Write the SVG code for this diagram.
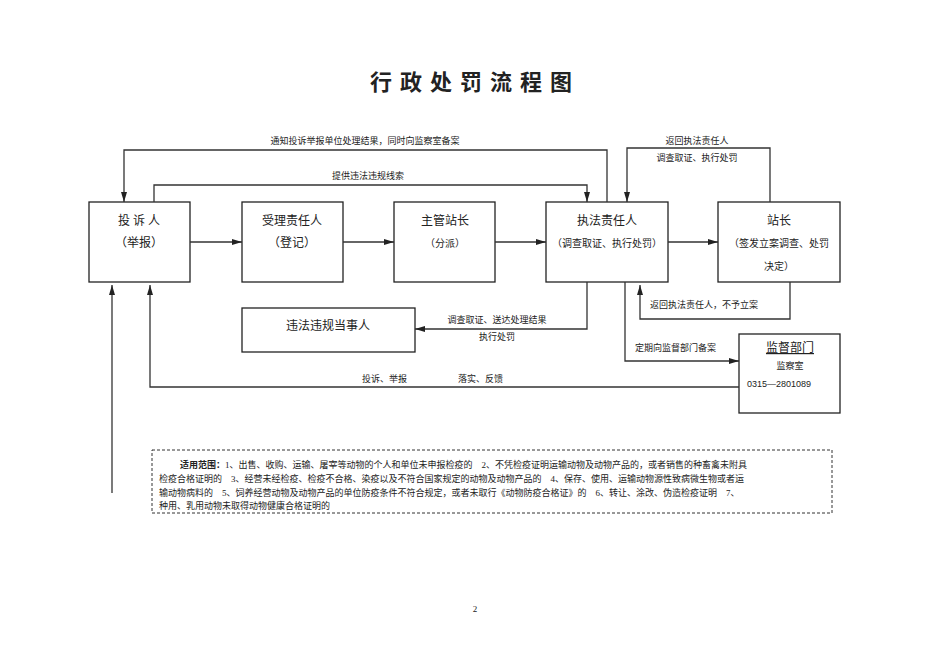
<svg xmlns="http://www.w3.org/2000/svg" width="950" height="672" viewBox="0 0 950 672">
<style>
text{font-family:"Liberation Serif","Noto Sans CJK SC",serif;fill:#222}
.b{fill:#fff;stroke:#222;stroke-width:1.3}
.l{fill:none;stroke:#333;stroke-width:1.3}
.t{font-size:12px;text-anchor:middle}
.s{font-size:9px}
</style>
<defs><marker id="a" viewBox="0 0 10 6" refX="10" refY="3" markerWidth="10" markerHeight="6" markerUnits="userSpaceOnUse" orient="auto"><path d="M0,0L10,3L0,6z" fill="#222"/></marker></defs>
<rect width="950" height="672" fill="#fff"/>
<text x="475" y="90" style="font-size:22px;font-weight:bold;text-anchor:middle;letter-spacing:8px">行政处罚流程图</text>
<g id="n1"><rect class="b" x="89" y="202" width="101" height="80"/><text class="t" x="139" y="225">投 诉 人</text><text class="t" x="139" y="247">（举报）</text></g>
<g id="n2"><rect class="b" x="242" y="202" width="101" height="80"/><text class="t" x="292" y="225">受理责任人</text><text class="t" x="292" y="247">（登记）</text></g>
<g id="n3"><rect class="b" x="394" y="202" width="101" height="80"/><text class="t" x="445" y="225">主管站长</text><text class="t" x="445" y="247" style="font-size:10px">（分派）</text></g>
<g id="n4"><rect class="b" x="546" y="202" width="122" height="80"/><text class="t" x="607" y="225">执法责任人</text><text class="t" x="607" y="247" style="font-size:10px">（调查取证、执行处罚）</text></g>
<g id="n5"><rect class="b" x="718" y="202" width="122" height="80"/><text class="t" x="779" y="225">站长</text><text class="t" x="779" y="247" style="font-size:10px">（签发立案调查、处罚</text><text class="t" x="779" y="270" style="font-size:10px">决定）</text></g>
<g id="n6"><rect class="b" x="242" y="308" width="173" height="44"/><text class="t" x="328" y="330">违法违规当事人</text></g>
<g id="n7"><rect class="b" x="739" y="334" width="101" height="79"/><text x="790" y="352" style="font-size:12px;text-anchor:middle;text-decoration:underline">监督部门</text><text x="790" y="369" class="s" style="text-anchor:middle">监察室</text><text x="747" y="387" style="font-family:'Liberation Sans',sans-serif;font-size:9px">0315—2801089</text></g>
<g id="n8"><rect x="152" y="450" width="680" height="63" fill="none" stroke="#333" stroke-dasharray="3,2"/>
<text class="s" x="180" y="468"><tspan font-weight="bold">适用范围：</tspan>1、出售、收购、运输、屠宰等动物的个人和单位未申报检疫的　2、不凭检疫证明运输动物及动物产品的，或者销售的种畜禽未附具</text>
<text class="s" x="159" y="482">检疫合格证明的　3、经营未经检疫、检疫不合格、染疫以及不符合国家规定的动物及动物产品的　4、保存、使用、运输动物源性致病微生物或者运</text>
<text class="s" x="159" y="496">输动物病料的　5、饲养经营动物及动物产品的单位防疫条件不符合规定，或者未取行《动物防疫合格证》的　6、转让、涂改、伪造检疫证明　7、</text>
<text class="s" x="159" y="509">种用、乳用动物未取得动物健康合格证明的</text></g>
<g id="edges">
<path class="l" d="M190,242H242" marker-end="url(#a)"/>
<path class="l" d="M343,242H394" marker-end="url(#a)"/>
<path class="l" d="M495,242H546" marker-end="url(#a)"/>
<path class="l" d="M668,242H718" marker-end="url(#a)"/>
<path class="l" d="M607,202V150H124V202" marker-end="url(#a)"/>
<path class="l" d="M154,202V185H587V202" marker-end="url(#a)"/>
<path class="l" d="M770,202V148H627V202" marker-end="url(#a)"/>
<path class="l" d="M790,282V319H640V285" marker-end="url(#a)"/>
<path class="l" d="M587,282V329H415" marker-end="url(#a)"/>
<path class="l" d="M625,282V361H739" marker-end="url(#a)"/>
<path class="l" d="M739,387H150V285" marker-end="url(#a)"/>
<path class="l" d="M112,493H112V285" marker-end="url(#a)"/>
<text class="s" x="365" y="144" text-anchor="middle">通知投诉举报单位处理结果，同时向监察室备案</text>
<text class="s" x="368" y="179" text-anchor="middle">提供违法违规线索</text>
<text class="s" x="697" y="144" text-anchor="middle">返回执法责任人</text>
<text class="s" x="697" y="161" text-anchor="middle">调查取证、执行处罚</text>
<text class="s" x="650" y="308">返回执法责任人，不予立案</text>
<text class="s" x="497" y="323" text-anchor="middle">调查取证、送达处理结果</text>
<text class="s" x="497" y="340" text-anchor="middle">执行处罚</text>
<text class="s" x="635" y="351">定期向监督部门备案</text>
<text class="s" x="362" y="382">投诉、举报</text>
<text class="s" x="458" y="382">落实、反馈</text>
</g>
<text x="475" y="612" style="font-size:9px;text-anchor:middle">2</text>
</svg>
